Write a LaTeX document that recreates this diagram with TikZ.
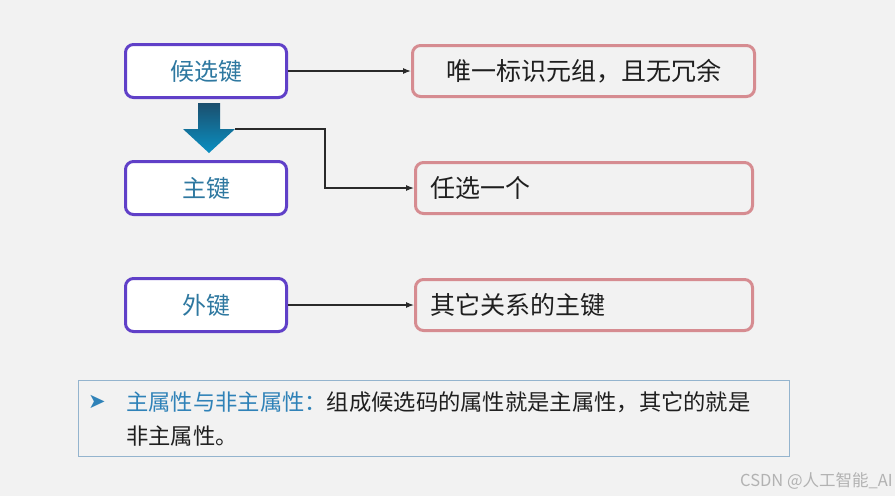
\documentclass[tikz,border=0pt]{standalone}
\usepackage{fontspec}
\setmainfont{Noto Sans CJK SC}
\newfontfamily\symfont{DejaVu Sans}
\usetikzlibrary{arrows.meta,positioning,calc}
\definecolor{bgray}{HTML}{F2F2F2}
\definecolor{keypurple}{HTML}{6040C8}
\definecolor{keyblue}{HTML}{2E78A0}
\definecolor{descpink}{HTML}{D68C91}
\definecolor{linegray}{HTML}{2A2A2A}
\definecolor{noteblue}{HTML}{94B4CE}
\definecolor{titleblue}{HTML}{2F82B8}
\definecolor{arrowdark}{HTML}{1B4F6E}
\definecolor{arrowlight}{HTML}{0A90C2}
\tikzset{
  keybox/.style={draw=keypurple, rounded corners=8pt, fill=white, line width=3pt,
    minimum width=161pt, minimum height=53pt, text=keyblue, font=\fontsize{24}{28}\selectfont},
  descbox/.style={draw=descpink, rounded corners=8pt, fill=bgray, line width=3pt,
    minimum width=342pt, minimum height=51pt, text=black!88, font=\fontsize{25}{30}\selectfont},
  leftdesc/.style={descbox, minimum width=337pt, inner xsep=15pt, text width=307pt, align=left},
  link/.style={-{Latex[length=8pt,width=6pt]}, line width=1.1pt, draw=linegray},
  note/.style={draw=noteblue, line width=1pt, minimum width=711pt, minimum height=76pt},
  notetext/.style={anchor=west, inner sep=0pt, align=left, text=black!88,
    font=\fontsize{22.3}{34}\selectfont},
  wmark/.style={anchor=east, inner sep=0pt, text=black!30, font=\fontsize{16.5}{19}\selectfont},
}

\begin{document}
\begin{tikzpicture}[x=1pt, y=-1pt, node distance=61pt]
  % Background
  \fill[bgray] (0,0) rectangle (895,496);
  \useasboundingbox (0,0) rectangle (895,496);

  % Key boxes
  \node[keybox] (cand) at (206,71) {候选键};
  \node[keybox, below=of cand] (prim) {主键};
  \node[keybox, below=of prim] (forn) {外键};

  % Descriptions
  \node[descbox, right=123pt of cand] (unique) {唯一标识元组，且无冗余};
  \node[leftdesc, right=126pt of prim] (anyone) {任选一个};
  \node[leftdesc, right=126pt of forn] (other) {其它关系的主键};

  % Down arrow
  \shade[top color=arrowdark, bottom color=arrowlight]
    (198,103) -- (220,103) -- (220,129) -- (235,129) -- (209,153)
    -- (183,129) -- (198,129) -- cycle;
  \coordinate (bend) at (235,129);

  % Arrows
  \draw[link] (cand) -- (unique);
  \draw[link] (bend) -- ++(90,0) |- (anyone.west);
  \draw[link] (forn) -- (other);

  % Note box
  \node[note] (notebox) at (434,418.5) {};
  \node[inner sep=0pt, text=titleblue, font=\symfont\fontsize{21}{24}\selectfont] (bullet) at (97,402) {➤};
  \node[notetext] (def) at (126,419)
    {{\color{titleblue}主属性与非主属性：}组成候选码的属性就是主属性，其它的就是\\非主属性。};

  \node[wmark] (credit) at (893,481) {CSDN @人工智能\_AI};
\end{tikzpicture}
\end{document}
